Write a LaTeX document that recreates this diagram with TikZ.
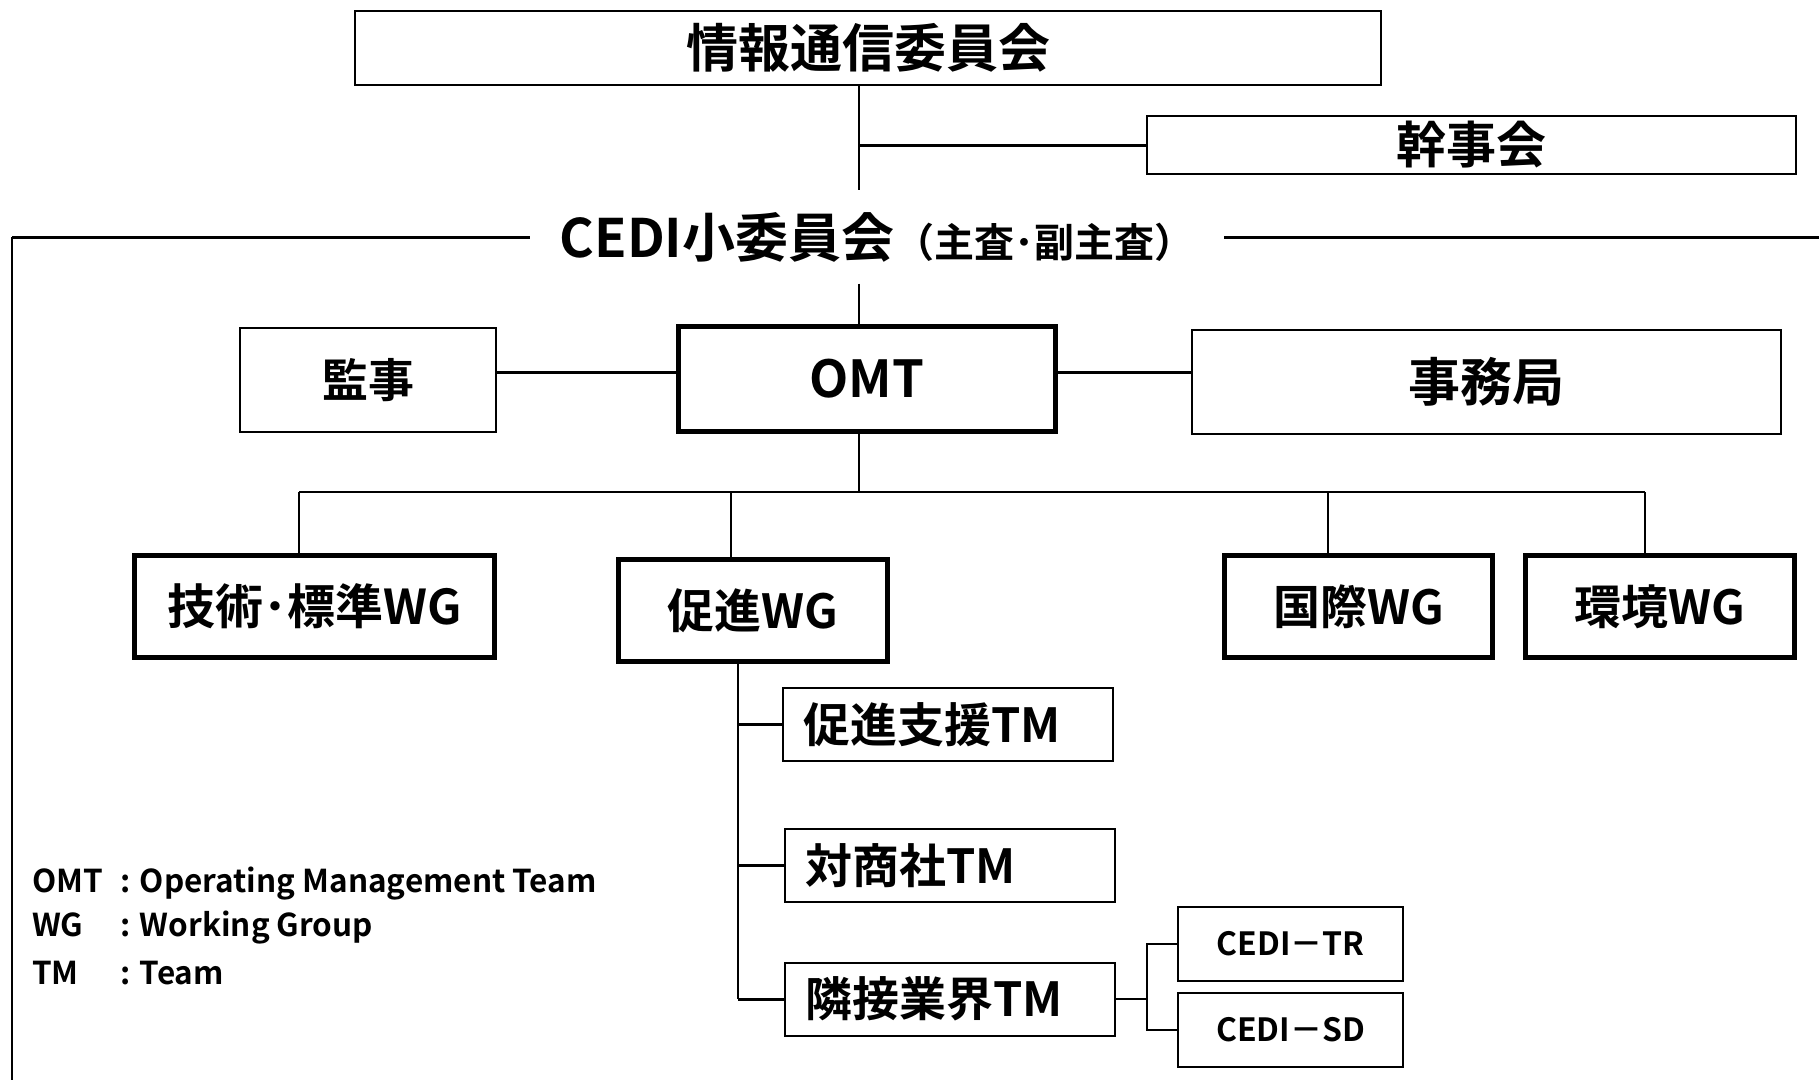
\documentclass[tikz,border=0pt]{standalone}
\usepackage{fontspec}
\setmainfont{Noto Sans CJK JP}[BoldFont={* Bold}]
\begin{document}
\begin{tikzpicture} [x=1pt,y=-1pt,
	plainbox/.style={shape=rectangle,draw,line width=2pt,inner sep=0pt,font=\bfseries\fontsize{#1}{#1}\selectfont},
	mainbox/.style={shape=rectangle,draw,line width=5pt,inner sep=0pt,font=\bfseries\fontsize{#1}{#1}\selectfont},
	teambox/.style={plainbox=47,text width=290pt,align=left,inner xsep=20pt,minimum height=73pt},
	legendtext/.style={anchor=west,inner sep=0pt,font=\bfseries\fontsize{31.5}{36}\selectfont},
	thinlink/.style={line width=1.8pt},
	heavylink/.style={line width=3pt}]
	\useasboundingbox (0,0) rectangle (1819,1080);

	\node (councilNode) at (868,47.5)[plainbox=52,minimum width=1026,minimum height=74] {情報通信委員会};
	\node (kanjiNode) at (1471.5,145)[plainbox=50,minimum width=649,minimum height=58] {幹事会};
	\node (cediNode) at (877,237)[minimum width=694,minimum height=93,inner sep=0pt,font=\bfseries\fontsize{53}{56}\selectfont] {CEDI小委員会{\fontsize{40}{44}\selectfont （主査･副主査）}};

	\node (kansaNode) at (368,380)[plainbox=46,minimum width=256,minimum height=104] {監事};
	\node (omtNode) at (867,379)[mainbox=51,minimum width=377,minimum height=105] {OMT};
	\node (jimuNode) at (1486.5,382)[plainbox=52,minimum width=589,minimum height=104] {事務局};

	\node (gijutsuNode) at (314.5,606.5)[mainbox=48,minimum width=360,minimum height=102] {技術･標準WG};
	\node (sokushinNode) at (753,610.5)[mainbox=47,minimum width=269,minimum height=102] {促進WG};
	\node (kokusaiNode) at (1358.5,606.5)[mainbox=47,minimum width=268,minimum height=102] {国際WG};
	\node (kankyoNode) at (1660,606.5)[mainbox=47,minimum width=269,minimum height=102] {環境WG};

	\node (shienNode) at (948,724.5)[teambox] {促進支援TM};
	\node (shoshaNode) at (950,865.5)[teambox] {対商社TM};
	\node (ringyoNode) at (950,999)[teambox] {隣接業界TM};
	\node (cediTrNode) at (1290.5,944)[plainbox=32,minimum width=225,minimum height=74] {CEDI－TR};
	\node (cediSdNode) at (1290.5,1030)[plainbox=32,minimum width=225,minimum height=74] {CEDI－SD};

	\node (legendOmt) at (32,884)[legendtext] {\makebox[88pt][l]{OMT}: Operating Management Team};
	\node (legendWg) at (32,928)[legendtext] {\makebox[88pt][l]{WG}: Working Group};
	\node (legendTm) at (32,973)[legendtext] {\makebox[88pt][l]{TM}: Team};

	\coordinate (trunk) at (859,0);
	\coordinate (sideLine) at (0,372);
	\coordinate (leftCorner) at (12,237);
	\coordinate (leftEnd) at (12,1080);
	\coordinate (rightEnd) at (1819,237);
	\coordinate (busLeft) at (299,492);
	\coordinate (busRight) at (1645,492);
	\coordinate (dropSokushin) at (731,492);
	\coordinate (dropKokusai) at (1328,492);
	\coordinate (subLine) at (738,0);
	\coordinate (forkLine) at (1147,0);

	\draw[thinlink] (trunk |- councilNode.south) -- (trunk |- cediNode.north);
	\draw[heavylink] (kanjiNode.west) -- (trunk |- kanjiNode.west);
	\draw[heavylink] (cediNode.west) -- (leftCorner);
	\draw[thinlink] (leftCorner) -- (leftEnd);
	\draw[heavylink] (cediNode.east) -- (rightEnd);
	\draw[thinlink] (trunk |- cediNode.south) -- (trunk |- omtNode.north);
	\draw[heavylink] (kansaNode.east |- sideLine) -- (omtNode.west |- sideLine);
	\draw[heavylink] (omtNode.east |- sideLine) -- (jimuNode.west |- sideLine);

	\draw[thinlink] (trunk |- omtNode.south) -- (trunk |- busLeft);
	\draw[thinlink] (busLeft) -- (busRight);
	\draw[thinlink] (busLeft) -- (busLeft |- gijutsuNode.north);
	\draw[thinlink] (dropSokushin) -- (dropSokushin |- sokushinNode.north);
	\draw[thinlink] (dropKokusai) -- (dropKokusai |- kokusaiNode.north);
	\draw[thinlink] (busRight) -- (busRight |- kankyoNode.north);

	\draw[thinlink] (subLine |- sokushinNode.south) -- (subLine |- ringyoNode.west);
	\draw[heavylink] (subLine |- shienNode.west) -- (shienNode.west);
	\draw[heavylink] (subLine |- shoshaNode.west) -- (shoshaNode.west);
	\draw[heavylink] (subLine |- ringyoNode.west) -- (ringyoNode.west);
	\draw[thinlink] (ringyoNode.east) -- (forkLine |- ringyoNode.east);
	\draw[thinlink] (cediTrNode.west) -| (forkLine |- cediSdNode.west) -- (cediSdNode.west);
\end{tikzpicture}
\end{document}
